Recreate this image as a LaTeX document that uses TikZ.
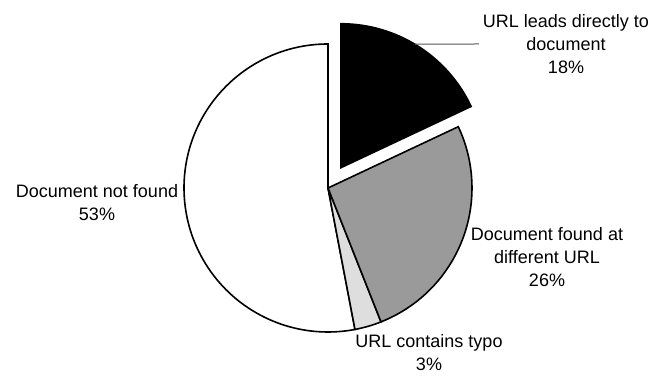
\documentclass[tikz,border=0pt]{standalone}
\usepackage{fontspec}
\setmainfont{Liberation Sans}
\definecolor{darkslice}{HTML}{9A9A9A}
\definecolor{lightslice}{HTML}{DEDEDE}
\definecolor{leader}{HTML}{555555}
\begin{document}
\begin{tikzpicture}[x=1pt,y=1pt,
  slice/.style={draw=black,line width=1.6pt,line join=miter},
  lbl/.style={align=center,inner sep=4pt,font=\fontsize{18}{23}\selectfont}]
\useasboundingbox (0,0) rectangle (669,375);
\fill[white] (0,0) rectangle (669,375);
\coordinate (C) at (328,187);
\coordinate (C2) at ([shift={(57.6:24)}]C);
% white slice 53%
\draw[slice,fill=white] (C) -- ++(90:144) arc[start angle=90,end angle=280.8,radius=144] -- cycle;
% light slice 3%
\draw[slice,fill=lightslice] (C) -- ++(280.8:144) arc[start angle=280.8,end angle=291.6,radius=144] -- cycle;
% gray slice 26%
\draw[slice,fill=darkslice] (C) -- ++(291.6:144) arc[start angle=291.6,end angle=385.2,radius=144] -- cycle;
% black slice 18% (exploded)
\draw[slice,fill=black] (C2) -- ++(25.2:144) arc[start angle=25.2,end angle=90,radius=144] -- cycle;
\coordinate (p) at ([shift={(59.2:144)}]C2);
% labels
\node[lbl] (l18) at (566,331) {URL leads directly to\\document\\18\%};
\node[lbl] (l53) at (97,172) {Document not found\\53\%};
\node[lbl] (l26) at (547,118) {Document found at\\different URL\\26\%};
\node[lbl,inner sep=1pt] (l3) at (429,22) {URL contains typo\\3\%};
\draw[leader,line width=1pt] (p) -- (l18.west);
\end{tikzpicture}
\end{document}
